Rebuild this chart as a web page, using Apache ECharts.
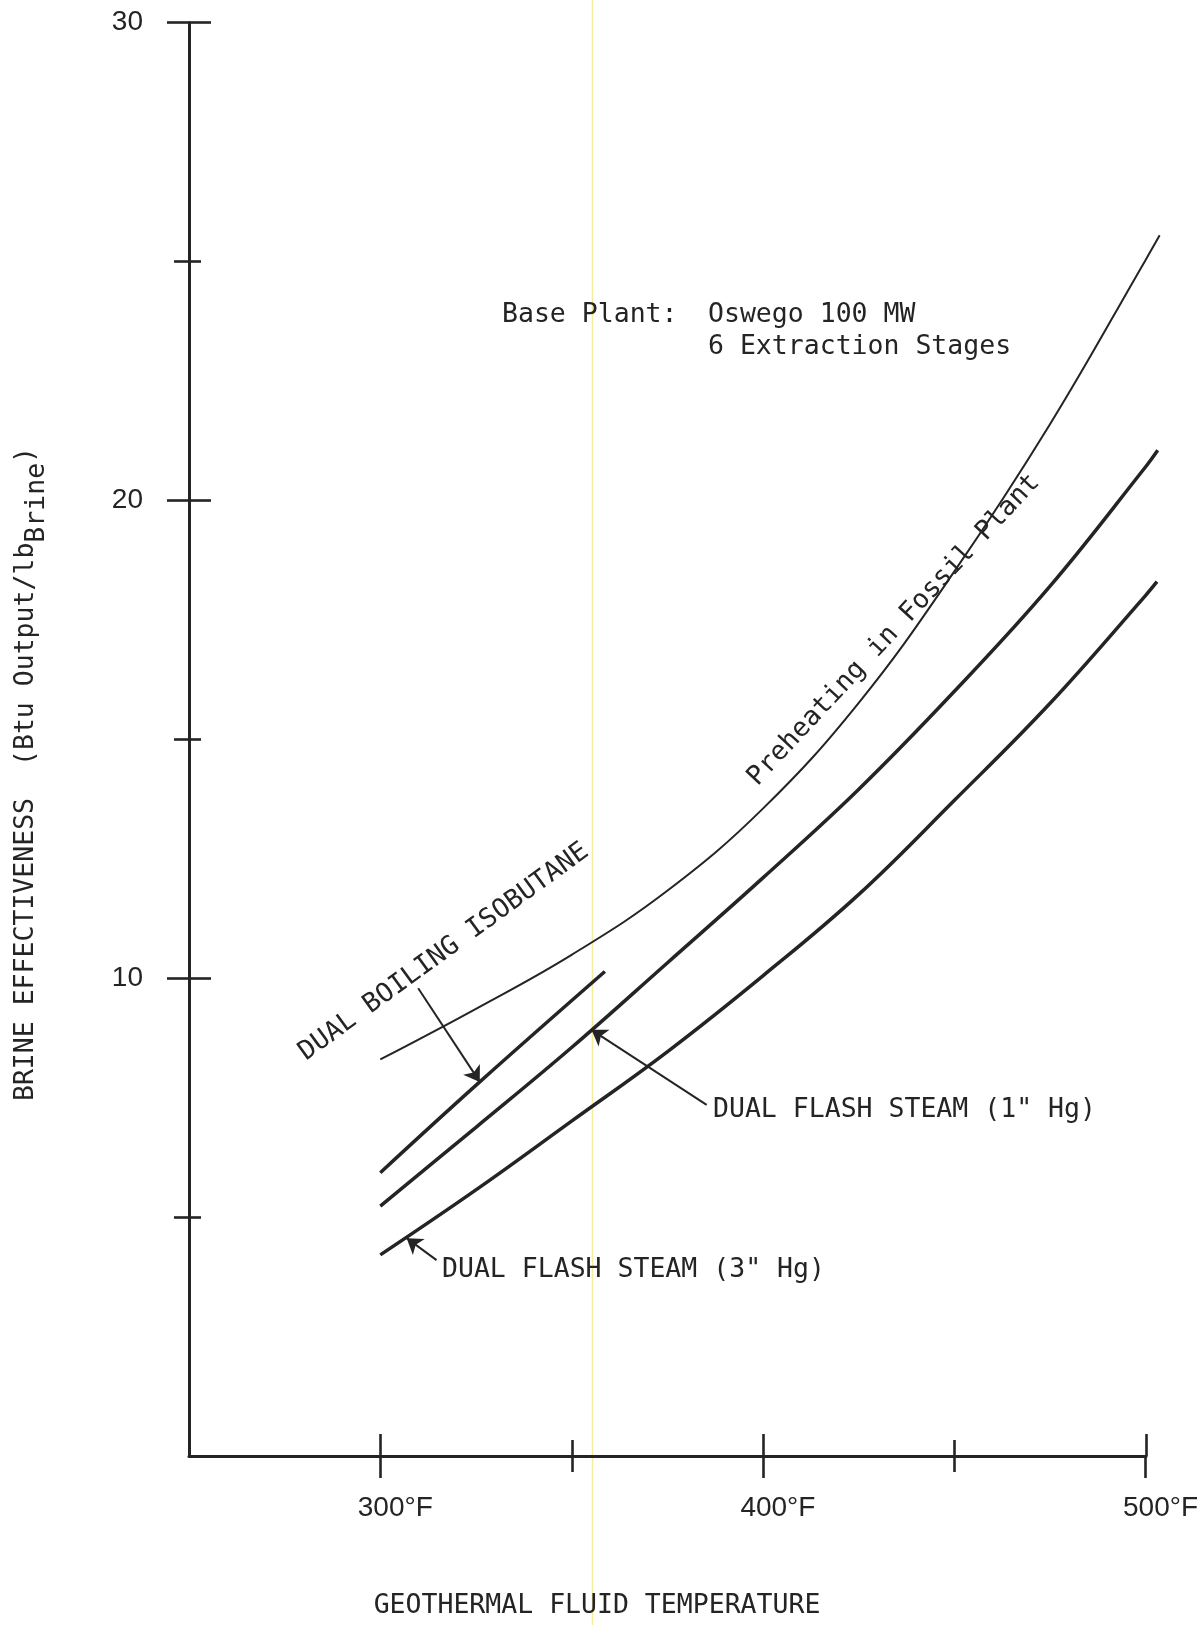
<!DOCTYPE html>
<html>
<head>
  <meta charset="utf-8" />
  <title>Brine effectiveness vs geothermal fluid temperature</title>
  <script src="https://cdn.jsdelivr.net/npm/echarts@6/dist/echarts.min.js"></script>
  <style>html, body { margin: 0; padding: 0; background: #fff; }</style>
</head>
<body>
  <div id="chart" style="width:1201px;height:1625px;"></div>
  <script type="text/javascript">

    // Curves: temperature (°F) and brine effectiveness
    let preheatT = [300, 325, 350, 375, 400, 425, 450, 475, 500, 503.7];
    let preheatE = [8.30, 9.36, 10.49, 11.83, 13.55, 15.76, 18.51, 21.59, 25.03, 25.55];
    let isobutaneT = [300, 326.0, 358.7];
    let isobutaneE = [5.93, 7.83, 10.14];
    let flash1T = [300, 325, 350, 375, 400, 425, 450, 475, 500, 503.2];
    let flash1E = [5.23, 6.88, 8.55, 10.32, 12.10, 13.95, 16.00, 18.20, 20.70, 21.05];
    let flash3T = [300, 325, 350, 375, 400, 425, 450, 475, 500, 503.0];
    let flash3E = [4.21, 5.57, 7.01, 8.46, 10.05, 11.75, 13.72, 15.75, 18.01, 18.30];

    // Tick values
    let majorTemps = [300, 400, 500];
    let minorTemps = [350, 450];
    let majorEff = [10, 20, 30];
    let minorEff = [5, 15, 25];

    // Leader arrows, [tail, head] in data units
    let arrowIsobutane = [[309.9, 9.79], [326.0, 7.83]];
    let arrowFlash1 = [[385.3, 7.35], [355.2, 8.92]];
    let arrowFlash3 = [[314.7, 4.10], [306.9, 4.56]];

    let ink = '#242424';
    let mono = '"DejaVu Sans Mono", "Liberation Mono", monospace';
    let sans = '"Liberation Sans", Arial, Helvetica, sans-serif';

    var chart = echarts.init(document.getElementById('chart'));

    // Ticks cross the axis lines, so each tick set is drawn twice (outside + inside),
    // every set on its own grid. Grid 0 holds the curves and runs a bit past 500°F
    // (same scale) because the curves overshoot the last tick; grid 1 draws the
    // x axis line, which stops at 500°F.
    let tickSets = [
      { t: majorTemps, e: majorEff, xLen: 22, yLen: 22, inside: false, max: 504, right: 39.7 },
      { t: majorTemps, e: majorEff, xLen: 22, yLen: 22, inside: true, max: 500, right: 55 },
      { t: minorTemps, e: minorEff, xLen: 16, yLen: 15, inside: false, max: 500, right: 55 },
      { t: minorTemps, e: minorEff, xLen: 16, yLen: 12, inside: true, max: 500, right: 55 }
    ];

    function curve(name, ts, es, width, arrow) {
      let s = {
        name: name,
        type: 'line',
        xAxisIndex: 0,
        yAxisIndex: 0,
        data: ts.map(function (t, i) { return [t, es[i]]; }),
        smooth: 0.4,
        clip: false,
        showSymbol: false,
        symbol: 'none',
        lineStyle: { color: ink, width: width },
        emphasis: { disabled: true }
      };
      if (arrow) {
        s.markLine = {
          silent: true,
          symbol: ['none', 'arrow'],
          symbolSize: 15,
          label: { show: false },
          lineStyle: { color: ink, width: 2, type: 'solid' },
          emphasis: { disabled: true },
          data: [[{ coord: arrow[0] }, { coord: arrow[1] }]]
        };
      }
      return s;
    }

    function note(text, x, y, deg, align) {
      return {
        type: 'text',
        x: x,
        y: y,
        rotation: deg * Math.PI / 180,
        silent: true,
        style: {
          text: text,
          fontFamily: mono,
          fontSize: 26.5,
          fill: ink,
          align: align,
          verticalAlign: 'middle'
        }
      };
    }

    var option = {
      animation: false,
      backgroundColor: '#ffffff',
      grid: tickSets.map(function (s) {
        return { left: 189, right: s.right, top: 22.7, bottom: 169 };
      }),
      xAxis: tickSets.map(function (s, i) {
        return {
          type: 'value',
          gridIndex: i,
          min: 250,
          max: s.max,
          axisLine: { show: i === 1, onZero: false, lineStyle: { color: ink, width: 3 } },
          axisTick: {
            show: true, inside: s.inside, length: s.xLen, customValues: s.t,
            lineStyle: { color: ink, width: 2.6 }
          },
          axisLabel: {
            show: i === 0,
            customValues: s.t,
            margin: 38,
            // left padding keeps the digits centred on the tick and lets °F hang right
            padding: [0, 0, 0, 30],
            formatter: function (v) { return v + '°F'; },
            fontFamily: sans,
            fontSize: 28,
            color: ink
          },
          splitLine: { show: false }
        };
      }),
      yAxis: tickSets.map(function (s, i) {
        return {
          type: 'value',
          gridIndex: i,
          min: 0,
          max: 30,
          axisLine: { show: i === 0, onZero: false, lineStyle: { color: ink, width: 3 } },
          axisTick: {
            show: true, inside: s.inside, length: s.yLen, customValues: s.e,
            lineStyle: { color: ink, width: 2.6 }
          },
          axisLabel: {
            show: i === 0,
            customValues: s.e,
            margin: 46,
            fontFamily: sans,
            fontSize: 28,
            color: ink
          },
          splitLine: { show: false }
        };
      }),
      series: [
        curve('Preheating in Fossil Plant', preheatT, preheatE, 2, null),
        curve('Dual Boiling Isobutane', isobutaneT, isobutaneE, 3.5, arrowIsobutane),
        curve('Dual Flash Steam (1" Hg)', flash1T, flash1E, 3.5, arrowFlash1),
        curve('Dual Flash Steam (3" Hg)', flash3T, flash3E, 3.5, arrowFlash3)
      ],
      graphic: [
        // faint yellow streak from the scan
        {
          type: 'line', silent: true, z: -10,
          shape: { x1: 592.5, y1: 0, x2: 592.5, y2: 1625 },
          style: { stroke: 'rgba(240, 232, 120, 0.75)', lineWidth: 1.5 }
        },
        note('Base Plant:', 502, 315, 0, 'left'),
        note('Oswego 100 MW', 708, 315, 0, 'left'),
        note('6 Extraction Stages', 708, 347, 0, 'left'),
        note('Preheating in Fossil Plant', 894, 630, 47, 'center'),
        note('DUAL BOILING ISOBUTANE', 444, 952, 36, 'center'),
        note('DUAL FLASH STEAM (1" Hg)', 713, 1110, 0, 'left'),
        note('DUAL FLASH STEAM (3" Hg)', 442, 1270, 0, 'left'),
        note('GEOTHERMAL FLUID TEMPERATURE', 597, 1606, 0, 'center'),
        {
          type: 'text', x: 26, y: 774, rotation: Math.PI / 2, silent: true,
          style: {
            text: '{m|BRINE EFFECTIVENESS  (Btu Output/lb}{s|Brine}{m|)}',
            align: 'center',
            verticalAlign: 'middle',
            rich: {
              m: { fontFamily: mono, fontSize: 26.5, fill: ink, lineHeight: 50, verticalAlign: 'middle' },
              s: { fontFamily: mono, fontSize: 26.5, fill: ink, lineHeight: 26, padding: [24, 0, 0, 0], verticalAlign: 'bottom' }
            }
          }
        }
      ]
    };

    chart.setOption(option);
  </script>
</body>
</html>
